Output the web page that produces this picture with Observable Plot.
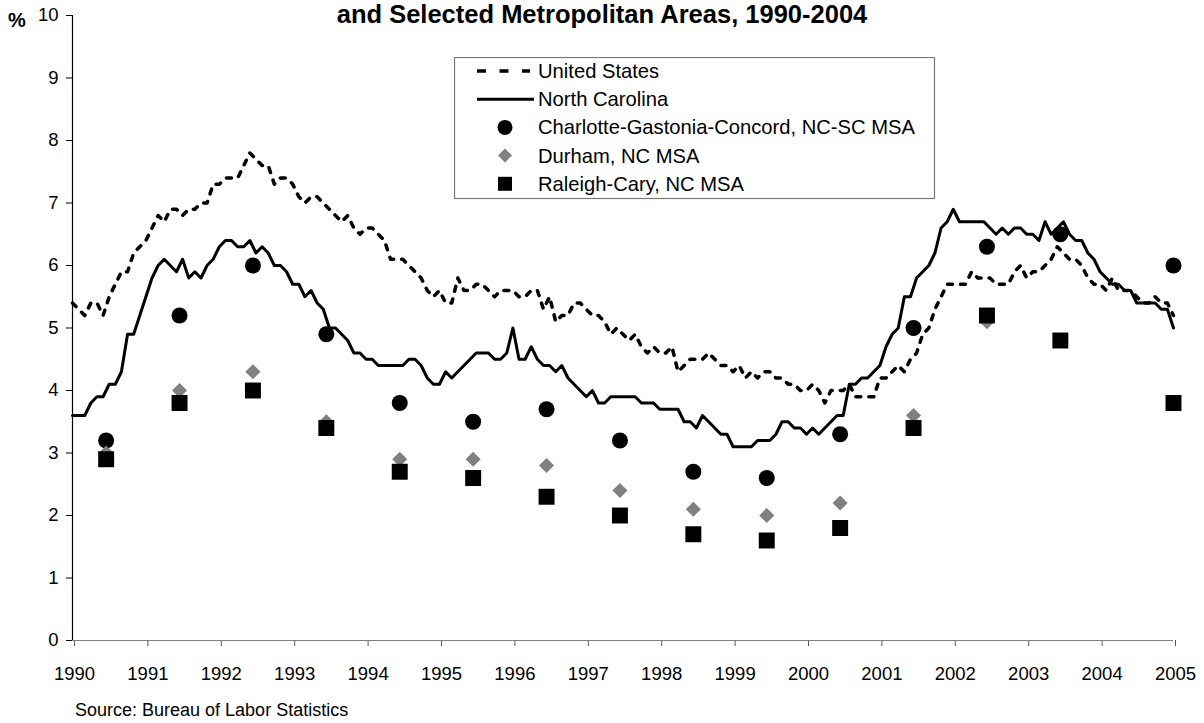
<!DOCTYPE html>
<html>
<head>
<meta charset="utf-8">
<script src="https://cdn.jsdelivr.net/npm/d3@7"></script>
<script src="https://cdn.jsdelivr.net/npm/@observablehq/plot@0.6"></script>
<style>
  html, body { margin: 0; padding: 0; background: #fff; }
  #wrap { position: relative; width: 1204px; height: 723px; overflow: hidden;
          font-family: "Liberation Sans", Arial, sans-serif; color: #000; }
  #title { position: absolute; left: 0; top: 0; width: 1204px; text-align: center;
           font-weight: bold; font-size: 25.5px; line-height: 29px; white-space: nowrap; }
  #pct { position: absolute; left: 8px; top: 10px; font-weight: bold; font-size: 20px; line-height: 20px; }
  #chart { position: absolute; left: 0; top: 0; }
  #legend { position: absolute; left: 454px; top: 57px; }
  #source { position: absolute; left: 75px; top: 701px; font-size: 18px; line-height: 18px; white-space: nowrap; }
</style>
</head>
<body>
<div id="wrap">
  <div id="chart"></div>
  <div id="title">and Selected Metropolitan Areas, 1990-2004</div>
  <div id="pct">%</div>
  <div id="legend"></div>
  <div id="source">Source: Bureau of Labor Statistics</div>
</div>
<script>
// ---- Data ----
// Monthly rates, January 1990 through January 2005
const usRate = [
  5.4,5.3,5.2,5.4,5.4,5.2,5.5,5.7,5.9,5.9,6.2,6.3,
  6.4,6.6,6.8,6.7,6.9,6.9,6.8,6.9,6.9,7.0,7.0,7.3,
  7.3,7.4,7.4,7.4,7.6,7.8,7.7,7.6,7.6,7.3,7.4,7.4,
  7.3,7.1,7.0,7.1,7.1,7.0,6.9,6.8,6.7,6.8,6.6,6.5,
  6.6,6.6,6.5,6.4,6.1,6.1,6.1,6.0,5.9,5.8,5.6,5.5,
  5.6,5.4,5.4,5.8,5.6,5.6,5.7,5.7,5.6,5.5,5.6,5.6,
  5.6,5.5,5.5,5.6,5.6,5.3,5.5,5.1,5.2,5.2,5.4,5.4,
  5.3,5.2,5.2,5.1,4.9,5.0,4.9,4.8,4.9,4.7,4.6,4.7,
  4.6,4.6,4.7,4.3,4.4,4.5,4.5,4.5,4.6,4.5,4.4,4.4,
  4.3,4.4,4.2,4.3,4.2,4.3,4.3,4.2,4.2,4.1,4.1,4.0,
  4.0,4.1,4.0,3.8,4.0,4.0,4.0,4.1,3.9,3.9,3.9,3.9,
  4.2,4.2,4.3,4.4,4.3,4.5,4.6,4.9,5.0,5.3,5.5,5.7,
  5.7,5.7,5.7,5.9,5.8,5.8,5.8,5.7,5.7,5.7,5.9,6.0,
  5.8,5.9,5.9,6.0,6.1,6.3,6.2,6.1,6.1,6.0,5.8,5.7,
  5.7,5.6,5.8,5.6,5.6,5.6,5.5,5.4,5.4,5.5,5.4,5.4,
  5.2
];
const ncRate = [
  3.6,3.6,3.6,3.8,3.9,3.9,4.1,4.1,4.3,4.9,4.9,5.2,
  5.5,5.8,6.0,6.1,6.0,5.9,6.1,5.8,5.9,5.8,6.0,6.1,
  6.3,6.4,6.4,6.3,6.3,6.4,6.2,6.3,6.2,6.0,6.0,5.9,
  5.7,5.7,5.5,5.6,5.4,5.3,5.0,5.0,4.9,4.8,4.6,4.6,
  4.5,4.5,4.4,4.4,4.4,4.4,4.4,4.5,4.5,4.4,4.2,4.1,
  4.1,4.3,4.2,4.3,4.4,4.5,4.6,4.6,4.6,4.5,4.5,4.6,
  5.0,4.5,4.5,4.7,4.5,4.4,4.4,4.3,4.4,4.2,4.1,4.0,
  3.9,4.0,3.8,3.8,3.9,3.9,3.9,3.9,3.9,3.8,3.8,3.8,
  3.7,3.7,3.7,3.7,3.5,3.5,3.4,3.6,3.5,3.4,3.3,3.3,
  3.1,3.1,3.1,3.1,3.2,3.2,3.2,3.3,3.5,3.5,3.4,3.4,
  3.3,3.4,3.3,3.4,3.5,3.6,3.6,4.1,4.1,4.2,4.2,4.3,
  4.4,4.7,4.9,5.0,5.5,5.5,5.8,5.9,6.0,6.2,6.6,6.7,
  6.9,6.7,6.7,6.7,6.7,6.7,6.6,6.5,6.6,6.5,6.6,6.6,
  6.5,6.5,6.4,6.7,6.5,6.6,6.7,6.5,6.4,6.4,6.2,6.1,
  5.9,5.8,5.7,5.7,5.6,5.6,5.4,5.4,5.4,5.4,5.3,5.3,
  5.0
];
// Annual MSA rates, 1990-2004
const msaYears   = [1990,1991,1992,1993,1994,1995,1996,1997,1998,1999,2000,2001,2002,2003,2004];
const charlotte  = [3.2,5.2,6.0,4.9,3.8,3.5,3.7,3.2,2.7,2.6,3.3,5.0,6.3,6.5,6.0];
const durham     = [3.0,4.0,4.3,3.5,2.9,2.9,2.8,2.4,2.1,2.0,2.2,3.6,5.1,null,null];
const raleigh    = [2.9,3.8,4.0,3.4,2.7,2.6,2.3,2.0,1.7,1.6,1.8,3.4,5.2,4.8,3.8];
const yearTicks  = [1990,1991,1992,1993,1994,1995,1996,1997,1998,1999,2000,2001,2002,2003,2004,2005];
const valueTicks = [0,1,2,3,4,5,6,7,8,9,10];
const seriesNames = ["United States","North Carolina","Charlotte-Gastonia-Concord, NC-SC MSA","Durham, NC MSA","Raleigh-Cary, NC MSA"];

// ---- Tables built from the arrays ----
const monthly = (arr) => arr.map((v, i) => ({x: 1990 + i / 12, y: v}));
const usData = monthly(usRate);
const ncData = monthly(ncRate);
// annual values are drawn mid-year; the 2004 value sits at the 2005 tick as in the source chart
const msaX = (yr) => yr === 2004 ? 2005 : yr + 5.5 / 12;
const annual = (arr) => msaYears.map((yr, i) => ({x: msaX(yr), y: arr[i]})).filter(d => d.y != null);

const FONT = '"Liberation Sans", Arial, sans-serif';

const chart = Plot.plot({
  width: 1204,
  height: 690,
  marginLeft: 72,
  marginRight: 31,
  marginTop: 15,
  marginBottom: 50,
  style: {fontFamily: FONT, fontSize: "18.5px", color: "#000", background: "transparent", overflow: "visible"},
  x: {domain: [1990, 2005]},
  y: {domain: [0, 10]},
  marks: [
    Plot.axisY({ticks: valueTicks, tickSize: 6, tickPadding: 8, label: null, tickFormat: d => String(d), stroke: "#000", fill: "#000"}),
    Plot.axisX({ticks: yearTicks, tickSize: 6, tickPadding: 20, label: null, tickFormat: d => String(d), stroke: "#555", fill: "#000", dx: 2}),
    Plot.ruleY([0], {stroke: "#808080", strokeWidth: 1.2}),
    Plot.ruleX([1990], {stroke: "#000", strokeWidth: 1.2}),
    Plot.line(usData, {x: "x", y: "y", stroke: "#000", strokeWidth: 3.5, strokeDasharray: "5,8"}),
    Plot.line(ncData, {x: "x", y: "y", stroke: "#000", strokeWidth: 3, strokeLinejoin: "round"}),
    Plot.dot(annual(charlotte), {x: "x", y: "y", symbol: "circle", r: 8, fill: "#000"}),
    Plot.dot(annual(durham), {x: "x", y: "y", symbol: "diamond2", r: 6.8, fill: "#808080"}),
    Plot.dot(annual(raleigh), {x: "x", y: "y", symbol: "square", r: 9, fill: "#000"})
  ]
});
document.getElementById("chart").appendChild(chart);

// ---- Legend ----
const lg = d3.select("#legend").append("svg").attr("width", 482).attr("height", 143)
  .style("font-family", FONT).style("font-size", "20.2px").style("display", "block");
lg.append("rect").attr("x", 0.5).attr("y", 0.5).attr("width", 480).attr("height", 141)
  .attr("fill", "#fff").attr("stroke", "#777").attr("stroke-width", 1.2);
const rowBase = (i) => 21 + 28.2 * i;
const rowMid = (i) => rowBase(i) - 7;
lg.append("line").attr("x1", 23).attr("x2", 76).attr("y1", rowMid(0)).attr("y2", rowMid(0))
  .attr("stroke", "#000").attr("stroke-width", 3.5).attr("stroke-dasharray", "9,13.5");
lg.append("line").attr("x1", 23).attr("x2", 80).attr("y1", rowMid(1)).attr("y2", rowMid(1))
  .attr("stroke", "#000").attr("stroke-width", 3);
lg.append("circle").attr("cx", 51).attr("cy", rowMid(2)).attr("r", 7.5).attr("fill", "#000");
lg.append("path").attr("d", `M51,${rowMid(3)-7}L58,${rowMid(3)}L51,${rowMid(3)+7}L44,${rowMid(3)}Z`).attr("fill", "#808080");
lg.append("rect").attr("x", 44).attr("y", rowMid(4) - 7).attr("width", 14).attr("height", 14).attr("fill", "#000");
seriesNames.forEach((name, i) => {
  lg.append("text").attr("x", 84).attr("y", rowBase(i)).text(name);
});
</script>
</body>
</html>
